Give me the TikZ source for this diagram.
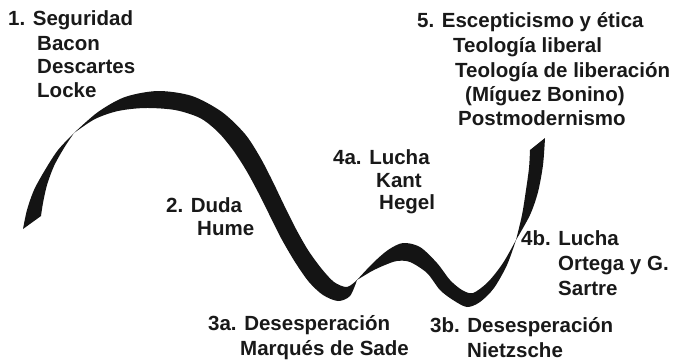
\documentclass[tikz,border=0pt]{standalone}
\usepackage{fontspec}
\setmainfont{Liberation Sans}
\begin{document}
\begin{tikzpicture}[x=1pt,y=-1pt,
  lbl/.style={anchor=base west,inner sep=0pt,font=\fontsize{20.5}{22}\selectfont\bfseries,text=black!90},
  ribbon/.style={fill=black!92}]
\useasboundingbox (0,0) rectangle (675,360);
% ribbon segments
\fill[ribbon] plot[smooth] coordinates {(23,229) (27,210) (34,190) (45,170) (58,150) (74,133)}
  -- plot[smooth] coordinates {(74,133) (64,148) (54,166) (47,185) (43,203) (41,216)} -- cycle;
\fill[ribbon] plot[smooth] coordinates {(74,133) (98,112) (125,97) (158,91) (192,96) (222,112) (245,134) (260,157) (272,180) (284,205) (296,229) (308,250) (321,268) (334,282) (347,287) (357,280)}
  -- plot[smooth] coordinates {(357,280) (350,296) (338,301) (323,295) (309,282) (295,262) (281,238) (269,214) (258,192) (246,170) (233,150) (218,132) (200,118) (175,110) (145,108) (118,111) (95,119) (74,133)} -- cycle;
\fill[ribbon] plot[smooth] coordinates {(357,280) (373,263) (388,250) (403,243) (420,247) (437,263) (450,280) (462,290) (473,293) (488,282) (503,263) (516,240)}
  -- plot[smooth] coordinates {(516,240) (507,265) (494,288) (480,302) (467,307) (453,300) (440,290) (427,273) (410,262) (397,261) (385,265) (372,271) (357,280)} -- cycle;
\fill[ribbon] plot[smooth] coordinates {(516,240) (522,215) (526,190) (529,168) (530,150)}
  -- plot[smooth] coordinates {(545,138) (543,165) (538,192) (530,215) (516,240)} -- cycle;
% labels
\node[lbl] (s1) at (8,25) {1. Seguridad};
\node[lbl] (s1a) at (37,50) {Bacon};
\node[lbl] (s1b) at (37,73) {Descartes};
\node[lbl] (s1c) at (37,97) {Locke};
\node[lbl] (s2) at (166,212) {2. Duda};
\node[lbl] (s2a) at (197,235) {Hume};
\node[lbl] (s3a) at (208,330) {3a. Desesperación};
\node[lbl] (s3aa) at (240,355) {Marqués de Sade};
\node[lbl] (s3b) at (430,332) {3b. Desesperación};
\node[lbl] (s3ba) at (467,357) {Nietzsche};
\node[lbl] (s4a) at (333,164) {4a. Lucha};
\node[lbl] (s4aa) at (376,187) {Kant};
\node[lbl] (s4ab) at (379,209) {Hegel};
\node[lbl] (s4b) at (521,245) {4b. Lucha};
\node[lbl] (s4ba) at (558,270) {Ortega y G.};
\node[lbl] (s4bb) at (558,295) {Sartre};
\node[lbl] (s5) at (417,27) {5. Escepticismo y ética};
\node[lbl] (s5a) at (453,52) {Teología liberal};
\node[lbl] (s5b) at (455,77) {Teología de liberación};
\node[lbl] (s5c) at (465,101) {(Míguez Bonino)};
\node[lbl] (s5d) at (458,125) {Postmodernismo};
\end{tikzpicture}
\end{document}
